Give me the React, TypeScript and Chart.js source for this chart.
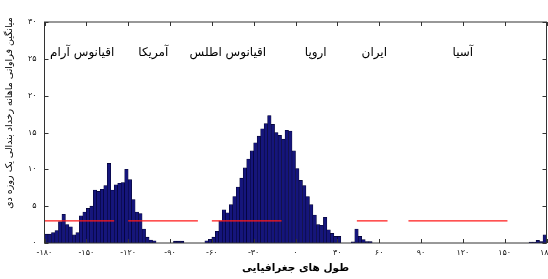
import React, { useEffect, useRef } from 'react';
import { Chart, registerables } from 'chart.js';

Chart.register(...registerables);

// ---------- data ----------
const BIN_WIDTH = 2.5;

const pacificStart = -180;
const pacificFreq = [1.2, 1.2, 1.4, 1.7, 2.9, 3.9, 2.5, 2.2, 1.1, 1.4, 3.7, 4.2, 4.7, 5.0, 7.2, 7.0, 7.3, 7.8, 10.8, 7.2, 7.9, 8.1, 8.2, 10.0, 8.6, 5.9, 4.2, 4.0, 1.9, 0.8, 0.4, 0.3];

const americaStart = -87.5;
const americaFreq = [0.25, 0.25, 0.25];

const atlanticStart = -65;
const atlanticFreq = [0.3, 0.5, 0.8, 1.6, 3.0, 4.5, 4.1, 5.2, 6.3, 7.6, 8.8, 10.2, 11.4, 12.5, 13.6, 14.5, 15.5, 16.2, 17.3, 16.1, 15.0, 14.6, 14.1, 15.3, 15.2, 12.5, 10.1, 8.5, 7.8, 6.3, 5.2, 3.8, 2.5, 2.4, 3.5, 1.8, 1.3, 0.9, 0.9];

const iranStart = 40;
const iranFreq = [0.15, 1.9, 0.9, 0.45, 0.2, 0.2];

const eastStart = 167.5;
const eastFreq = [0.13, 0.13, 0.35, 0.2, 1.1];

const meanLevel = 3.0;
const meanSegStart = [-180, -120, -60, 44, 81];
const meanSegEnd = [-130, -70, -10, 66, 152];

const xTickValues = [-180, -150, -120, -90, -60, -30, 0, 30, 60, 90, 120, 150, 180];
const xTickLabels = ['-۱۸۰', '-۱۵۰', '-۱۲۰', '-۹۰', '-۶۰', '-۳۰', '۰', '۳۰', '۶۰', '۹۰', '۱۲۰', '۱۵۰', '۱۸۰'];
const yTickValues = [0, 5, 10, 15, 20, 25, 30];
const yTickLabels = ['۰', '۵', '۱۰', '۱۵', '۲۰', '۲۵', '۳۰'];

const regionNames = ['اقیانوس آرام', 'آمریکا', 'اقیانوس اطلس', 'اروپا', 'ایران', 'آسیا'];
const regionLon = [-153, -102, -48.5, 14.5, 56.5, 120];
const regionLevel = 25.8;

const xTitle = 'طول های جغرافیایی';
const yTitle = 'میانگین فراوانی ماهانه رخداد بندالی یک روزه دی';

// ---------- helpers ----------
function blockPoints(start: number, vals: number[]) {
  return vals.map((v, i) => ({ x: start + BIN_WIDTH * (i + 0.5), y: v }));
}

const FONT = "'DejaVu Sans', 'Noto Sans', sans-serif";

const framePlugin = {
  id: 'frame',
  afterDraw(chart: any) {
    const { ctx, chartArea, scales } = chart;
    const { left, right, top, bottom } = chartArea;
    const x = scales.x;
    const y = scales.y;
    ctx.save();
    ctx.strokeStyle = '#333333';
    ctx.lineWidth = 1;
    ctx.strokeRect(left, top, right - left, bottom - top);
    const tl = 4;
    ctx.beginPath();
    xTickValues.forEach((v) => {
      const px = Math.round(x.getPixelForValue(v)) + 0.5;
      ctx.moveTo(px, bottom);
      ctx.lineTo(px, bottom - tl);
      ctx.moveTo(px, top);
      ctx.lineTo(px, top + tl);
    });
    yTickValues.forEach((v) => {
      const py = Math.round(y.getPixelForValue(v)) + 0.5;
      ctx.moveTo(left, py);
      ctx.lineTo(left + tl, py);
      ctx.moveTo(right, py);
      ctx.lineTo(right - tl, py);
    });
    ctx.stroke();

    // region labels
    ctx.fillStyle = '#000000';
    ctx.font = `12px ${FONT}`;
    ctx.textAlign = 'center';
    ctx.textBaseline = 'middle';
    regionNames.forEach((name, i) => {
      ctx.fillText(name, x.getPixelForValue(regionLon[i]), y.getPixelForValue(regionLevel));
    });

    // y title
    ctx.font = `9.5px ${FONT}`;
    ctx.translate(10, 113);
    ctx.rotate(-Math.PI / 2);
    ctx.fillText(yTitle, 0, 0);
    ctx.restore();
  },
};

export default function App() {
  const ref = useRef<HTMLCanvasElement | null>(null);

  useEffect(() => {
    if (!ref.current) return;
    const barData = [
      ...blockPoints(pacificStart, pacificFreq),
      ...blockPoints(americaStart, americaFreq),
      ...blockPoints(atlanticStart, atlanticFreq),
      ...blockPoints(iranStart, iranFreq),
      ...blockPoints(eastStart, eastFreq),
    ];
    const lineData: { x: number; y: number | null }[] = [];
    meanSegStart.forEach((s, i) => {
      lineData.push({ x: s, y: meanLevel });
      lineData.push({ x: meanSegEnd[i], y: meanLevel });
      lineData.push({ x: meanSegEnd[i] + 0.01, y: null });
    });

    const chart = new Chart(ref.current, {
      type: 'bar',
      data: {
        datasets: [
          {
            type: 'line',
            data: lineData as any,
            borderColor: '#ff1a1a',
            borderWidth: 1.3,
            pointRadius: 0,
            spanGaps: false,
            order: 0,
          } as any,
          {
            type: 'bar',
            data: barData as any,
            backgroundColor: '#15157c',
            borderColor: '#03032e',
            borderWidth: 0.6,
            barPercentage: 1,
            categoryPercentage: 1,
            order: 1,
          } as any,
        ],
      },
      options: {
        animation: false,
        responsive: false,
        devicePixelRatio: 1,
        layout: { padding: { top: 22, right: 1.5, left: 0, bottom: 0 } },
        plugins: { legend: { display: false }, tooltip: { enabled: false } },
        scales: {
          x: {
            type: 'linear',
            min: -180,
            max: 180,
            offset: false,
            grid: { display: false, drawTicks: false },
            border: { display: false },
            afterBuildTicks: (scale: any) => {
              scale.ticks = xTickValues.map((v) => ({ value: v }));
            },
            afterFit: (scale: any) => {
              scale.height = 36;
              scale.paddingLeft = 0;
              scale.paddingRight = 0;
            },
            ticks: {
              autoSkip: false,
              maxRotation: 0,
              padding: 5,
              color: '#111111',
              font: { family: FONT, size: 8 },
              callback: (_v: any, i: number) => xTickLabels[i],
            },
            title: {
              display: true,
              text: xTitle,
              color: '#000000',
              font: { family: FONT, size: 10.5, weight: 'bold' },
              padding: { top: 0, bottom: 4 },
            },
          },
          y: {
            type: 'linear',
            min: 0,
            max: 30,
            grid: { display: false, drawTicks: false },
            border: { display: false },
            afterBuildTicks: (scale: any) => {
              scale.ticks = yTickValues.map((v) => ({ value: v }));
            },
            afterFit: (scale: any) => {
              scale.width = 44.5;
              scale.paddingTop = 0;
              scale.paddingBottom = 0;
            },
            ticks: {
              padding: 8,
              color: '#111111',
              font: { family: FONT, size: 8 },
              callback: (_v: any, i: number) => yTickLabels[i],
            },
          },
        },
      },
      plugins: [framePlugin],
    });
    return () => chart.destroy();
  }, []);

  return (
    <div style={{ position: 'absolute', left: 0, top: 0, width: 548, height: 279, background: '#ffffff' }}>
      <canvas ref={ref} width={548} height={279} style={{ width: 548, height: 279, display: 'block' }} />
    </div>
  );
}
